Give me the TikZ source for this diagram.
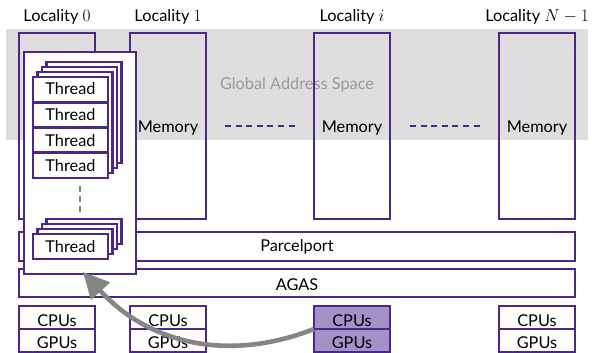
\documentclass[tikz,border=0pt]{standalone}
\usepackage[no-math]{fontspec}
\setmainfont{Lato}
\usetikzlibrary{arrows.meta}
\definecolor{hpxpurple}{HTML}{4B2887}
\definecolor{hpxlight}{HTML}{A392C8}
\definecolor{bandgray}{HTML}{DEDEDE}
\definecolor{arrowgray}{HTML}{858585}
\definecolor{gastext}{HTML}{9A9A9A}

\begin{document}
\begin{tikzpicture}[x=1pt,y=-1pt,line join=miter,
  pbox/.style={draw=hpxpurple,line width=2.6pt,inner sep=0pt,outer sep=0pt,
               anchor=north west},
  locbox/.style={pbox,minimum width=76pt,minimum height=186pt},
  hwbox/.style={pbox,minimum width=76pt,minimum height=23pt},
  bar/.style={pbox,minimum width=556pt,minimum height=29pt},
  card/.style={pbox,fill=white,minimum width=75pt},
  txt/.style={font=\fontsize{16.3}{19}\selectfont,inner sep=0pt,anchor=base},
  dashline/.style={draw=hpxpurple,line width=2.6pt,dash pattern=on 6pt off 4.6pt},
  migrate/.style={draw=arrowgray,line width=4.6pt,
                  -{Triangle[length=26pt,width=25pt]}},
]
\useasboundingbox (0,0) rectangle (592,353);

% global address space band
\fill[bandgray] (6,29) rectangle (588,140);
\node[txt,text=gastext] (gas) at (297,89) {Global Address Space};

% localities with their memory
\node[locbox] (loc0) at (19,33) {};
\node[locbox] (loc1) at (130,33) {};
\node[locbox] (loci) at (314,33) {};
\node[locbox] (locN) at (499,33) {};

\node[txt] (name0) at (57,22) {Locality $0$};
\node[txt] (name1) at (168,22) {Locality $1$};
\node[txt] (namei) at (352,22) {Locality $i$};
\node[txt] (nameN) at (537,22) {Locality $N-1$};

\node[txt] (mem1) at (168,132) {Memory};
\node[txt] (memi) at (352,132) {Memory};
\node[txt] (memN) at (537,132) {Memory};

% the localities in between, left out
\draw[dashline] ([xshift=19pt]loc1.east) -- ([xshift=-19pt]loci.west);
\draw[dashline] ([xshift=20pt]loci.east) -- ([xshift=-17pt]locN.west);

% runtime layers
\node[bar] (parcel) at (19,232) {};
\node[txt] (parcellbl) at (297,251) {Parcelport};
\node[bar,minimum height=28pt] (agas) at (19,269) {};
\node[txt] (agaslbl) at (297,290) {AGAS};

% hardware of each locality
\node[hwbox] (cpu0) at (19,306) {};
\node[hwbox] (gpu0) at (19,329) {};
\node[hwbox] (cpu1) at (130,306) {};
\node[hwbox] (gpu1) at (130,329) {};
\node[hwbox,fill=hpxlight] (cpui) at (314,306) {};
\node[hwbox,fill=hpxlight] (gpui) at (314,329) {};
\node[hwbox] (cpuN) at (499,306) {};
\node[hwbox] (gpuN) at (499,329) {};
\foreach \n/\x in {0/57,1/168,i/352,N/537}{
  \node[txt] (cpulbl\n) at (\x,326) {CPUs};
  \node[txt] (gpulbl\n) at (\x,348.5) {GPUs};
}

% thread panel of locality 0
\node[pbox,fill=white,minimum width=112pt,minimum height=222pt] (panel) at (24,52) {};
\foreach \k in {3,2,1}{
  \node[card,minimum height=101pt] (back\k) at (33+4.5*\k,77-5*\k) {};
}
\foreach \j/\b in {1/95,2/120.5,3/146,4/171.5}{
  \node[card,minimum height=25.25pt] (thr\j) at (33,77+25.25*\j-25.25) {};
  \node[txt] (thrlbl\j) at (70.5,\b) {Thread};
}
\draw[draw=gray,line width=2.4pt,dash pattern=on 6pt off 4pt] (80,186) -- (80,212);
\foreach \k in {3,2,1}{
  \node[card,minimum height=25pt] (lastback\k) at (33+4.5*\k,234-5*\k) {};
}
\node[card,minimum height=25pt] (lastthr) at (33,234) {};
\node[txt] (lastlbl) at (70.5,252.5) {Thread};

% migration of work back to locality 0
\draw[migrate] (cpui.south west) .. controls (230,362) and (150,345) .. ([xshift=3pt,yshift=2pt]panel.south);
\end{tikzpicture}
\end{document}
